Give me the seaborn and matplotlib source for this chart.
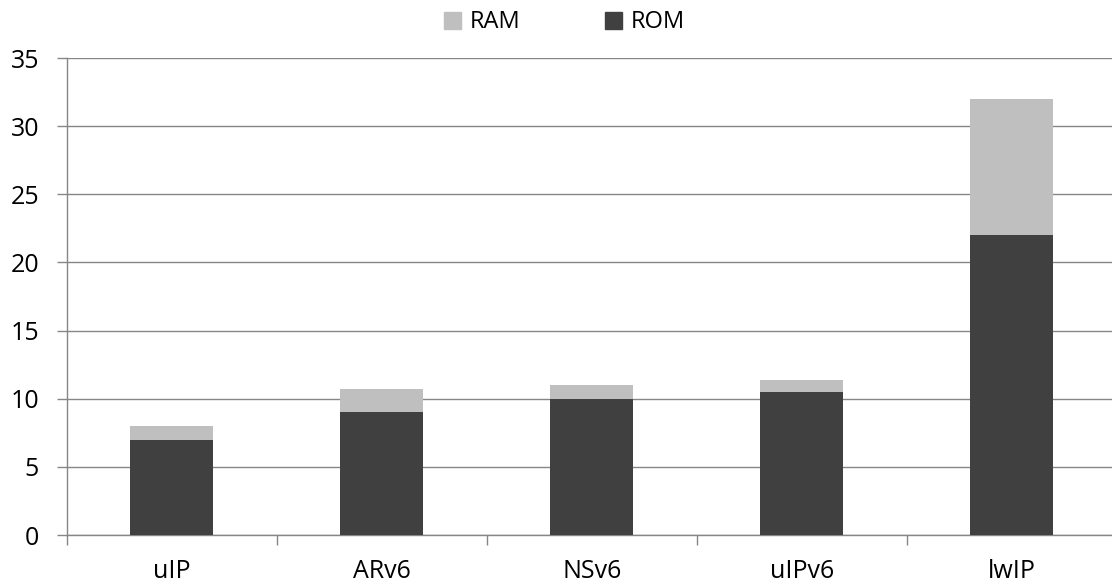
import matplotlib
matplotlib.use("Agg")
import matplotlib.pyplot as plt
import seaborn as sns
import pandas as pd
from matplotlib.patches import Patch

categories = ["uIP", "ARv6", "NSv6", "uIPv6", "lwIP"]
rom = [7.0, 9.0, 10.0, 10.5, 22.0]
ram = [1.0, 1.7, 1.0, 0.9, 10.0]
yticks = [0, 5, 10, 15, 20, 25, 30, 35]

total = [a + b for a, b in zip(rom, ram)]
df = pd.DataFrame({"cat": categories, "ROM": rom, "RAM": ram, "total": total})

sns.set_style("white")
plt.rcParams["font.family"] = ["Open Sans", "DejaVu Sans"]
plt.rcParams["text.color"] = "black"
plt.rcParams["xtick.labelcolor"] = "black"
plt.rcParams["ytick.labelcolor"] = "black"

fig = plt.figure(figsize=(11.12, 5.88), dpi=100)
ax = fig.add_axes([0.06, 0.0901, 0.9442, 0.8112])

ram_c = "#bfbfbf"
rom_c = "#404040"
sns.barplot(data=df, x="cat", y="total", color=ram_c, saturation=1, width=0.395,
            linewidth=0, ax=ax, zorder=3)
sns.barplot(data=df, x="cat", y="ROM", color=rom_c, saturation=1, width=0.395,
            linewidth=0, ax=ax, zorder=4)

ax.set_xlim(-0.5, len(categories) - 0.5)
ax.set_ylim(0, 35)
ax.set_yticks(yticks)
ax.set_yticklabels([str(v) for v in yticks], fontsize=18, color="black")
ax.set_xticks(range(len(categories)))
ax.set_xticklabels(categories, fontsize=18, color="black")
ax.set_xticks([i - 0.5 for i in range(len(categories) + 1)], minor=True)
ax.tick_params(axis="x", which="major", length=0, pad=17)
ax.tick_params(axis="x", which="minor", length=7, color="#868686", width=1, direction="out", bottom=True)
ax.tick_params(axis="y", length=7, color="#868686", width=1, direction="out", left=True, pad=13)
ax.set_xlabel("")
ax.set_ylabel("")
ax.yaxis.grid(True, color="#868686", linewidth=1.0, zorder=0)
ax.set_axisbelow(True)
for s in ["top", "right"]:
    ax.spines[s].set_visible(False)
for s in ["left", "bottom"]:
    ax.spines[s].set_color("#868686")
    ax.spines[s].set_linewidth(1)

handles = [Patch(color=ram_c, label="RAM"), Patch(color=rom_c, label="ROM")]
fig.legend(handles=handles, loc="center", bbox_to_anchor=(0.5077, 0.962), ncol=2, frameon=False,
           fontsize=17, handlelength=0.72, handleheight=0.72, handletextpad=0.35, columnspacing=3.6,
           borderpad=0, labelcolor="black")

fig.savefig("out.png", dpi=100)
